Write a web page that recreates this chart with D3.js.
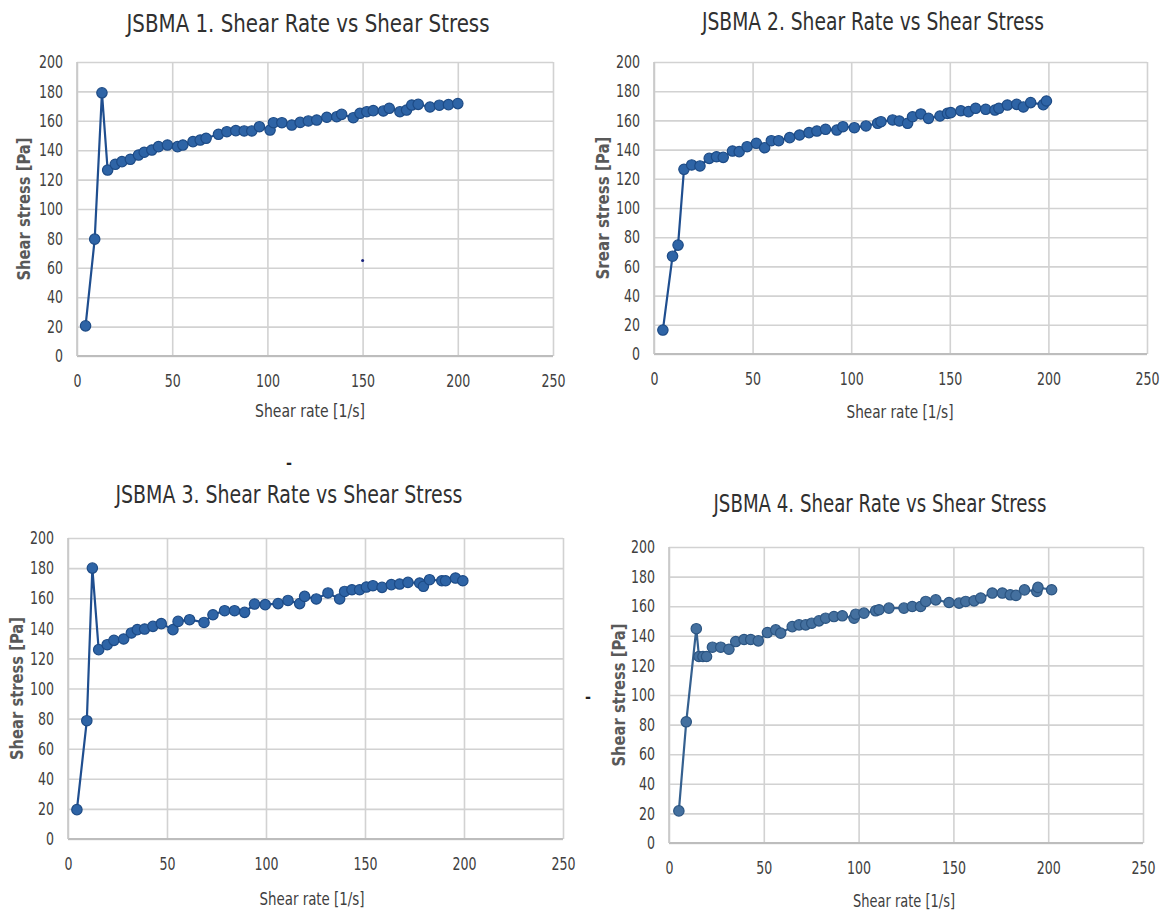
<!DOCTYPE html>
<html>
<head>
<meta charset="utf-8">
<script src="https://cdnjs.cloudflare.com/ajax/libs/d3/7.8.5/d3.min.js"></script>
<style>
  body { margin: 0; background: #fff; }
  svg text { font-family: "Liberation Sans Narrow", "DejaVu Sans Condensed", Lato, sans-serif; }
</style>
</head>
<body>
<div id="chart"></div>
<script>
// Shear rate [1/s] / shear stress [Pa]
const rate1 = [4.5, 9.3, 13.1, 16.1, 20.1, 23.6, 28.0, 32.3, 35.3, 39.3, 42.8, 47.5, 52.8, 55.6, 60.9, 64.7, 67.8, 74.3, 78.7, 83.4, 87.8, 91.8, 95.8, 101.4, 103.2, 107.6, 112.8, 117.2, 121.5, 125.9, 131.2, 136.4, 139.0, 145.1, 148.6, 152.2, 155.6, 160.9, 164.0, 169.6, 173.1, 175.8, 179.2, 185.4, 190.3, 195.1, 200.0];
const stress1 = [20.5, 79.5, 179, 126.5, 130.4, 132.2, 133.8, 136.7, 138.6, 140.1, 142.4, 143.5, 142.4, 143.5, 145.8, 146.9, 148.1, 150.8, 152.6, 153.3, 153.1, 153.1, 156.0, 153.7, 158.7, 158.7, 157.1, 158.9, 159.9, 160.5, 162.4, 162.8, 164.4, 162.1, 165.1, 166.2, 166.9, 166.7, 168.5, 166.2, 167.3, 170.7, 171.2, 169.4, 170.6, 171.0, 171.7];

const rate2 = [4.5, 9.4, 12.2, 15.2, 19.1, 23.3, 28.0, 31.7, 35.1, 39.8, 43.2, 47.2, 51.9, 56.1, 59.5, 63.2, 68.8, 73.8, 78.6, 82.6, 87.0, 92.7, 95.8, 101.6, 107.5, 113.4, 115.1, 121.0, 124.4, 128.6, 131.1, 135.3, 139.2, 145.0, 148.8, 150.5, 155.6, 159.5, 163.1, 168.2, 172.9, 174.9, 179.2, 183.9, 187.3, 191.0, 197.4, 199.0];
const stress2 = [16.4, 67, 74.6, 126.5, 129.5, 128.8, 134, 135.1, 134.7, 139, 138.6, 142, 144.3, 141.3, 146.1, 146.1, 148.2, 150, 151.6, 152.7, 153.9, 153.4, 155.7, 155, 156.2, 158, 159.1, 160.3, 159.6, 158, 162.5, 164.4, 161.4, 163, 164.8, 165.3, 166.6, 166, 168.3, 167.6, 167.1, 168.3, 170.5, 171, 169.2, 172.2, 170.8, 173.3];

const rate3 = [4.5, 9.5, 12.3, 15.5, 19.8, 23.2, 28.1, 32.0, 35.0, 38.7, 42.9, 47.1, 53.0, 55.6, 61.4, 68.7, 73.2, 79.1, 84.1, 89.2, 94.2, 99.6, 106.1, 111.1, 117.0, 119.5, 125.4, 131.3, 137.2, 139.7, 143.4, 147.3, 150.7, 154.0, 158.6, 163.3, 167.5, 171.7, 177.6, 179.5, 182.6, 188.8, 190.7, 195.7, 199.4];
const stress3 = [19.5, 78.6, 180, 125.8, 129.1, 132, 132.9, 136.9, 139.1, 139.5, 141.3, 143.1, 139.1, 144.6, 145.7, 143.9, 149, 151.7, 151.7, 150.6, 156.1, 155.7, 156.4, 158.5, 156.4, 161.2, 159.5, 163.5, 159.5, 164.5, 165.6, 165.6, 167.4, 168.3, 167.2, 169, 169.4, 170.5, 170.1, 167.9, 172.3, 171.6, 171.6, 173.4, 171.6];

const rate4 = [5.2, 9.1, 14.4, 15.8, 17.9, 19.8, 22.9, 27.3, 31.6, 35.2, 39.6, 43.1, 47.1, 51.9, 56.3, 58.9, 65.0, 68.6, 72.1, 75.3, 79.1, 82.6, 87.0, 91.4, 97.6, 98.5, 102.8, 109.0, 110.8, 116.0, 123.9, 128.3, 132.7, 135.4, 140.7, 147.7, 153.0, 156.5, 160.9, 164.4, 170.5, 175.8, 180.0, 183.0, 187.5, 194.0, 194.6, 201.8];
const stress4 = [21.7, 81.9, 144.8, 126, 126, 126, 132.3, 132.3, 130.9, 136.1, 137.5, 137.5, 136.6, 142.2, 144, 141.8, 146.2, 147.4, 147.4, 148.5, 150.1, 151.9, 153, 153.5, 151.9, 154.6, 155.3, 156.9, 157.6, 158.7, 158.7, 159.8, 159.8, 163.2, 164.3, 162.5, 162.1, 163.2, 163.6, 165.5, 168.9, 168.9, 167.7, 167.3, 171, 170, 172.7, 171.1];

// stray dot in panel 1
const strayRate = [150];
const strayStress = [65];

const xTicks = [0, 50, 100, 150, 200, 250];
const yTicks = [0, 20, 40, 60, 80, 100, 120, 140, 160, 180, 200];
const titles = [
  "JSBMA 1. Shear Rate vs Shear Stress",
  "JSBMA 2. Shear Rate vs Shear Stress",
  "JSBMA 3. Shear Rate vs Shear Stress",
  "JSBMA 4. Shear Rate vs Shear Stress"
];
const yLabels = ["Shear stress [Pa]", "Srear stress [Pa]", "Shear stress [Pa]", "Shear stress [Pa]"];
const xLabel = "Shear rate [1/s]";

const panels = [
  { left: 77, right: 553, top: 62, bottom: 356, tx: 308, ty: 32, tw: 363, ylx: 24, xlx: 310, xly: 417, xlw: 110,
    rate: rate1, stress: stress1, line: "#1f4e8f", fill: "#2e64a6", edge: "#1d4b86" },
  { left: 654, right: 1147, top: 62, bottom: 354, tx: 873, ty: 30, tw: 342, ylx: 603, xlx: 900, xly: 418, xlw: 107,
    rate: rate2, stress: stress2, line: "#1f4e8f", fill: "#2e64a6", edge: "#1d4b86" },
  { left: 68, right: 563, top: 538, bottom: 839, tx: 289, ty: 503, tw: 347, ylx: 17, xlx: 312, xly: 905, xlw: 105,
    rate: rate3, stress: stress3, line: "#1f4e8f", fill: "#2e64a6", edge: "#1d4b86" },
  { left: 669, right: 1143, top: 547, bottom: 843, tx: 880, ty: 512, tw: 333, ylx: 619, xlx: 904, xly: 907, xlw: 102,
    rate: rate4, stress: stress4, line: "#35608f", fill: "#44709f", edge: "#2c5582" }
];

const svg = d3.select("#chart")
  .append("svg")
  .attr("width", 1160)
  .attr("height", 913);

// narrow digits like the original Calibri labels
function styleTicks(a) {
  a.selectAll("text")
    .attr("fill", "#404040")
    .attr("font-size", 18)
    .attr("textLength", function () { return this.textContent.length * 8; })
    .attr("lengthAdjust", "spacingAndGlyphs");
}

panels.forEach((p, i) => {
  const x = d3.scaleLinear().domain([0, 250]).range([p.left, p.right]);
  const y = d3.scaleLinear().domain([0, 200]).range([p.bottom, p.top]);
  const g = svg.append("g");

  // horizontal grid + y tick labels
  g.append("g")
    .attr("transform", `translate(${p.left},0)`)
    .call(d3.axisLeft(y).tickValues(yTicks).tickSize(-(p.right - p.left)).tickPadding(14))
    .call(a => a.select(".domain").remove())
    .call(a => a.selectAll("line").attr("stroke", "#d2d2d2").attr("stroke-width", 1.6))
    .call(styleTicks);

  // vertical grid + x tick labels
  g.append("g")
    .attr("transform", `translate(0,${p.bottom})`)
    .call(d3.axisBottom(x).tickValues(xTicks).tickSize(-(p.bottom - p.top)).tickPadding(18))
    .call(a => a.select(".domain").remove())
    .call(a => a.selectAll("line").attr("stroke", "#d2d2d2").attr("stroke-width", 1.6))
    .call(styleTicks);

  // axis lines
  g.append("line")
    .attr("x1", x(0)).attr("x2", x(250))
    .attr("y1", y(0)).attr("y2", y(0))
    .attr("stroke", "#bdbdbd").attr("stroke-width", 1.8);
  g.append("line")
    .attr("x1", x(0)).attr("x2", x(0))
    .attr("y1", y(0)).attr("y2", y(200))
    .attr("stroke", "#c8c8c8").attr("stroke-width", 1.6);

  const pts = p.rate.map((r, k) => [r, p.stress[k]]);

  g.append("path")
    .datum(pts)
    .attr("fill", "none")
    .attr("stroke", p.line)
    .attr("stroke-width", 2.2)
    .attr("d", d3.line().x(d => x(d[0])).y(d => y(d[1])));

  g.selectAll("circle.pt")
    .data(pts)
    .enter()
    .append("circle")
    .attr("class", "pt")
    .attr("cx", d => x(d[0]))
    .attr("cy", d => y(d[1]))
    .attr("r", 5.2)
    .attr("fill", p.fill)
    .attr("stroke", p.edge)
    .attr("stroke-width", 1.2);

  if (i === 0) {
    g.selectAll("circle.stray")
      .data(strayRate.map((r, k) => [r, strayStress[k]]))
      .enter()
      .append("circle")
      .attr("class", "stray")
      .attr("cx", d => x(d[0]))
      .attr("cy", d => y(d[1]))
      .attr("r", 1.5)
      .attr("fill", "#1a237e");
  }

  // title
  g.append("text")
    .text(titles[i])
    .attr("x", p.tx)
    .attr("y", p.ty)
    .attr("text-anchor", "middle")
    .attr("font-size", 24)
    .attr("fill", "#303030")
    .attr("textLength", p.tw)
    .attr("lengthAdjust", "spacingAndGlyphs");

  // y label
  g.append("text")
    .text(yLabels[i])
    .attr("transform", `translate(${p.ylx},${(p.top + p.bottom) / 2}) rotate(-90)`)
    .attr("dy", "0.35em")
    .attr("text-anchor", "middle")
    .attr("font-size", 17)
    .attr("font-weight", "bold")
    .attr("fill", "#595959")
    .attr("textLength", 143)
    .attr("lengthAdjust", "spacingAndGlyphs");

  // x label
  g.append("text")
    .text(xLabel)
    .attr("x", p.xlx)
    .attr("y", p.xly)
    .attr("text-anchor", "middle")
    .attr("font-size", 17)
    .attr("fill", "#404040")
    .attr("textLength", p.xlw)
    .attr("lengthAdjust", "spacingAndGlyphs");
});

// stray dash marks present in the scan
svg.append("text").text("-").attr("x", 289).attr("y", 468)
  .attr("text-anchor", "middle").attr("font-size", 16).attr("font-weight", "bold").attr("fill", "#222");
svg.append("text").text("-").attr("x", 588).attr("y", 702)
  .attr("text-anchor", "middle").attr("font-size", 16).attr("font-weight", "bold").attr("fill", "#222");
</script>
</body>
</html>
